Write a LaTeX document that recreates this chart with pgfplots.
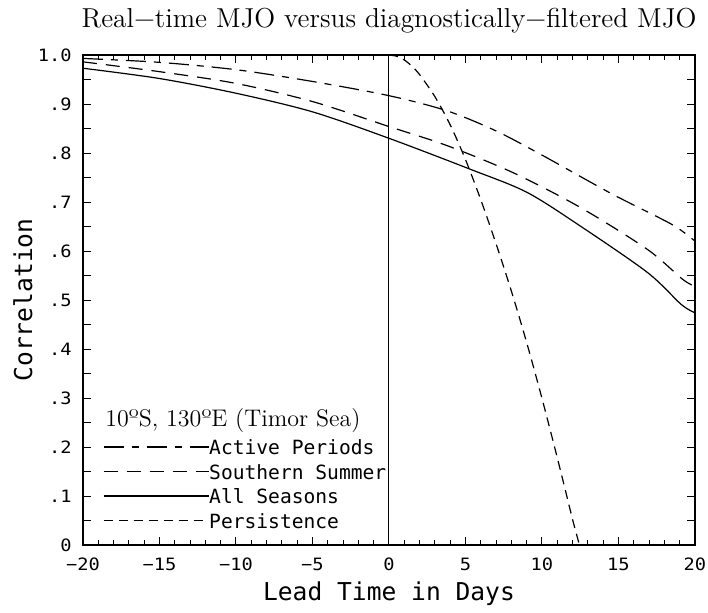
\documentclass[border=0pt]{standalone}
\usepackage{fontspec}
\usepackage{pgfplots}
\pgfplotsset{compat=1.18}
\newfontfamily\hfont{DejaVu Sans Mono}
\newfontfamily\tfont[FakeStretch=1.1]{DejaVu Sans Mono}

\begin{document}
\begin{tikzpicture}
\begin{axis}[
  scale only axis,
  width=306pt, height=245pt,
  xmin=-20, xmax=20, ymin=0, ymax=1,
  axis line style={line width=0.6pt},
  xtick={-20,-15,...,20},
  xticklabels={−20,−15,−10,−5,0,5,10,15,20},
  minor x tick num=4,
  ytick={0,0.05,0.1,0.15,0.2,0.25,0.3,0.35,0.4,0.45,0.5,0.55,0.6,0.65,0.7,0.75,0.8,0.85,0.9,0.95,1},
  yticklabels={0,,.1,,.2,,.3,,.4,,.5,,.6,,.7,,.8,,.9,,1.0},
  major tick length=4pt, minor tick length=2.5pt,
  tick style={black, line width=0.5pt},
  tick label style={font=\tfont\fontsize{8.5}{8.5}\selectfont},
  xticklabel style={anchor=north, inner sep=0pt, yshift=-6.3pt},
  yticklabel style={anchor=east, inner sep=0pt, xshift=-5.5pt},
  xlabel={Lead Time in Days},
  ylabel={Correlation},
  label style={font=\hfont\fontsize{12.3}{12.3}\selectfont},
  xlabel style={at={(axis description cs:0.5,0)}, anchor=base, yshift=-27.5pt},
  ylabel style={at={(axis description cs:-0.0833,0.5)}, anchor=base},
  title={Real−time MJO versus diagnostically−filtered MJO},
  title style={font=\fontsize{13.7}{13.7}\selectfont, at={(axis description cs:0.5,1)}, anchor=base, yshift=8pt},
  legend image code/.code={\draw[#1] (0pt,0pt) -- (52.5pt,0pt);},
  legend cell align=left,
  legend style={at={(axis cs:-18.69,0.2)}, anchor=north west, yshift=3.75pt,
    draw=none, fill=none, inner sep=0pt, outer sep=0pt,
    row sep=4.75pt,
    font=\hfont\fontsize{9.8}{9.8}\selectfont,
    nodes={inner sep=0pt, text height=7.5pt, text depth=0pt},
    /tikz/every even column/.append style={column sep=1pt}},
]
% lead 0 marker
\addplot[black, line width=0.5pt, forget plot] coordinates {(0,0) (0,1)};

% Active Periods
\addplot[black, line width=0.6pt, smooth, dash pattern=on 10pt off 4pt on 3.5pt off 4pt] coordinates {
(-20,0.993) (-15,0.985) (-10,0.970) (-5,0.946) (0,0.917) (3.8,0.886) (7,0.845)
(10.1,0.794) (14.6,0.716) (18.5,0.654) (20,0.620)};
\addlegendentry{Active Periods}

% Southern Summer
\addplot[black, line width=0.6pt, smooth, dash pattern=on 7pt off 4.5pt] coordinates {
(-20,0.986) (-15,0.966) (-10,0.942) (-5,0.905) (0,0.854) (3.8,0.815) (8.1,0.760)
(12.5,0.689) (16.9,0.603) (19.2,0.542) (20,0.528)};
\addlegendentry{Southern Summer}

% All Seasons
\addplot[black, line width=0.6pt, smooth] coordinates {
(-20,0.973) (-15,0.952) (-10,0.922) (-5,0.884) (0,0.830) (5.3,0.767) (9.0,0.720)
(12.5,0.651) (16.9,0.556) (19.1,0.491) (20,0.474)};
\addlegendentry{All Seasons}

% Persistence
\addplot[black, line width=0.6pt, smooth, dash pattern=on 4.5pt off 3pt] coordinates {
(0,1.0) (0.5,0.9975) (1,0.99) (1.5,0.977) (2,0.96) (3,0.915) (4,0.8575)
(5,0.7865) (6,0.7045) (7,0.6145) (8,0.518) (9,0.413) (10,0.299) (11,0.178)
(12,0.052) (12.45,0)};
\addlegendentry{Persistence}

\node[anchor=base west, font=\fontsize{12}{12}\selectfont, inner sep=0pt] at (axis cs:-18.56,0.241) {10ºS, 130ºE (Timor Sea)};
\end{axis}
\pgfresetboundingbox
\useasboundingbox ([shift={(-41.5pt,-33.5pt)}]current axis.south west) rectangle ([shift={(6.5pt,27.5pt)}]current axis.north east);
\end{tikzpicture}
\end{document}
